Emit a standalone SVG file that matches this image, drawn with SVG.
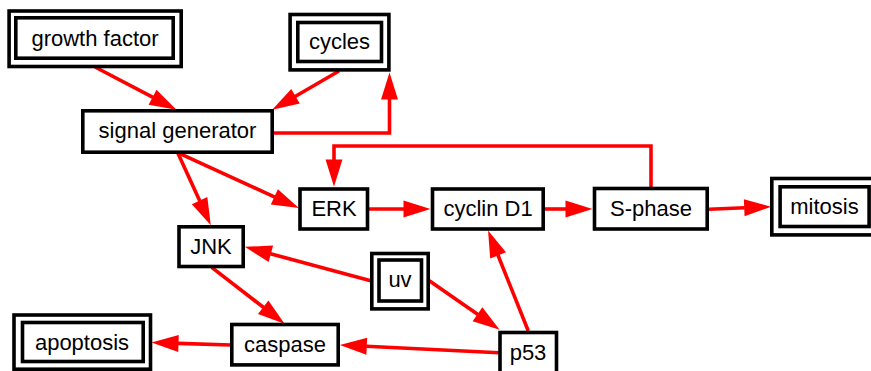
<svg xmlns="http://www.w3.org/2000/svg" width="871" height="371" viewBox="0 0 871 371">
  <style>
    .box { fill: #ffffff; stroke: #000000; stroke-width: 3.6; }
    .inner { fill: none; stroke: #000000; stroke-width: 3.6; }
    .label { font-family: "Liberation Sans", Arial, sans-serif; font-size: 22px; fill: #000000; text-anchor: middle; }
    .edge { fill: none; stroke: #ff0000; stroke-width: 3.6; }
  </style>
  <defs>
    <marker id="arrow" viewBox="0 0 27 17" refX="0.5" refY="8.5" markerWidth="27" markerHeight="17" markerUnits="userSpaceOnUse" orient="auto" overflow="visible">
      <path d="M0,0 L27,8.5 L0,17 z" fill="#ff0000"/>
    </marker>
  </defs>
  <rect width="871" height="371" fill="#ffffff"/>

  <!-- connectors -->
  <g id="edges" class="edge" marker-end="url(#arrow)">
    <line x1="95" y1="67" x2="153" y2="97.4" marker-end="url(#arrow)"/>
    <line x1="339" y1="71" x2="295.1" y2="96.5" marker-end="url(#arrow)"/>
    <polyline points="272,133 389.5,133 389.5,99" marker-end="url(#arrow)"/>
    <polyline points="651,188 651,146 334,146 334,160" marker-end="url(#arrow)"/>
    <line x1="177.7" y1="152.7" x2="274.8" y2="197.1" marker-end="url(#arrow)"/>
    <line x1="177.7" y1="152.7" x2="199.8" y2="201.1" marker-end="url(#arrow)"/>
    <line x1="368" y1="209" x2="404" y2="209" marker-end="url(#arrow)"/>
    <line x1="544" y1="209" x2="566" y2="209" marker-end="url(#arrow)"/>
    <line x1="703" y1="209.5" x2="744.7" y2="207.8" marker-end="url(#arrow)"/>
    <line x1="370.7" y1="280.7" x2="270.4" y2="253.7" marker-end="url(#arrow)"/>
    <line x1="429.3" y1="280.7" x2="477.9" y2="314.6" marker-end="url(#arrow)"/>
    <line x1="528.3" y1="331" x2="497.9" y2="255" marker-end="url(#arrow)"/>
    <line x1="499" y1="352.7" x2="366.3" y2="346.3" marker-end="url(#arrow)"/>
    <line x1="211.7" y1="267.3" x2="263.6" y2="307.5" marker-end="url(#arrow)"/>
    <line x1="231" y1="345" x2="178" y2="343.4" marker-end="url(#arrow)"/>
  </g>

  <!-- nodes -->
  <g id="growth-factor">
    <rect class="box" x="9.1" y="11" width="172.1" height="55.5"/>
    <rect class="inner" x="15.8" y="17.8" width="157.4" height="40.4"/>
    <text class="label" x="95" y="46">growth factor</text>
  </g>
  <g id="cycles">
    <rect class="box" x="290.1" y="14.5" width="98.8" height="55.4"/>
    <rect class="inner" x="297.8" y="22.5" width="83.7" height="39"/>
    <text class="label" x="339.5" y="49.3">cycles</text>
  </g>
  <g id="signal-generator">
    <rect class="box" x="82.8" y="110.8" width="189.4" height="41.4"/>
    <text class="label" x="177.5" y="137.5">signal generator</text>
  </g>
  <g id="ERK">
    <rect class="box" x="300" y="189" width="67.5" height="40"/>
    <text class="label" x="334" y="216">ERK</text>
  </g>
  <g id="cyclin-D1">
    <rect class="box" x="432.5" y="189" width="110.7" height="40"/>
    <text class="label" x="488" y="216">cyclin D1</text>
  </g>
  <g id="S-phase">
    <rect class="box" x="594.5" y="188.5" width="112.7" height="40.5"/>
    <text class="label" x="651" y="216">S-phase</text>
  </g>
  <g id="mitosis">
    <rect class="box" x="771.8" y="178.5" width="104" height="56.4"/>
    <rect class="inner" x="780.1" y="186.8" width="89" height="39.7"/>
    <text class="label" x="824.5" y="214">mitosis</text>
  </g>
  <g id="JNK">
    <rect class="box" x="179" y="226.8" width="64.2" height="39.7"/>
    <text class="label" x="211" y="253.5">JNK</text>
  </g>
  <g id="uv">
    <rect class="box" x="371.8" y="253.5" width="56.4" height="55.4"/>
    <rect class="inner" x="379" y="260" width="42.5" height="41"/>
    <text class="label" x="400" y="287">uv</text>
  </g>
  <g id="caspase">
    <rect class="box" x="231.8" y="324.5" width="106.4" height="40.4"/>
    <text class="label" x="285" y="352">caspase</text>
  </g>
  <g id="p53">
    <rect class="box" x="500" y="332.5" width="56.5" height="41"/>
    <text class="label" x="528" y="360">p53</text>
  </g>
  <g id="apoptosis">
    <rect class="box" x="14" y="315" width="136.5" height="54.2"/>
    <rect class="inner" x="22.5" y="322.5" width="120.7" height="39"/>
    <text class="label" x="82" y="350">apoptosis</text>
  </g>
</svg>
